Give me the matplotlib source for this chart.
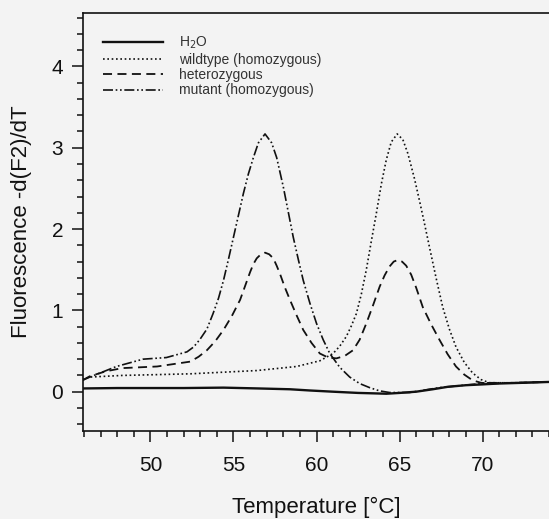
import matplotlib
matplotlib.use("Agg")
import matplotlib.pyplot as plt
from matplotlib.ticker import MultipleLocator

plt.rcParams['font.family'] = ['Liberation Sans', 'DejaVu Sans']

# ---- data ----
t_h2o = [45.9, 48.0, 50.0, 52.0, 54.4, 56.5, 58.4, 59.6, 61.0, 62.5, 63.4, 64.2, 65.0, 66.0, 67.0, 67.9, 69.0, 70.0, 70.9, 72.5, 74.0]
v_h2o = [0.04, 0.045, 0.045, 0.045, 0.05, 0.04, 0.03, 0.015, 0.0, -0.015, -0.02, -0.025, -0.015, 0.0, 0.03, 0.06, 0.08, 0.09, 0.10, 0.11, 0.12]

t_wt = [45.9, 46.35, 48.3, 50.4, 52.4, 54.4, 56.4, 58.8, 60.2, 61.0, 61.4, 61.8, 62.1, 62.4, 62.7, 63.0, 63.3, 63.6, 63.9, 64.2, 64.5, 64.86, 65.2, 65.5, 65.9, 66.2, 66.5, 66.8, 67.2, 67.6, 68.0, 68.4, 68.9, 69.4, 69.9, 70.4, 72.0, 74.0]
v_wt = [0.15, 0.18, 0.20, 0.21, 0.22, 0.24, 0.26, 0.31, 0.38, 0.47, 0.56, 0.68, 0.81, 0.96, 1.20, 1.50, 1.85, 2.19, 2.55, 2.85, 3.07, 3.17, 3.10, 2.93, 2.62, 2.35, 2.07, 1.78, 1.40, 1.04, 0.77, 0.55, 0.36, 0.23, 0.15, 0.11, 0.11, 0.12]

t_het = [45.9, 46.35, 47.3, 48.3, 50.4, 52.4, 52.9, 53.4, 53.9, 54.4, 54.9, 55.4, 55.7, 56.0, 56.2, 56.4, 56.65, 56.9, 57.15, 57.4, 57.6, 57.8, 58.1, 58.4, 58.8, 59.2, 59.7, 60.2, 60.7, 61.2, 61.7, 62.2, 62.6, 63.0, 63.4, 63.8, 64.1, 64.4, 64.65, 64.9, 65.15, 65.4, 65.7, 66.0, 66.4, 66.9, 67.4, 67.9, 68.4, 68.9, 69.4, 69.9, 70.4, 72.0, 74.0]
v_het = [0.14, 0.19, 0.25, 0.29, 0.31, 0.37, 0.43, 0.51, 0.62, 0.76, 0.93, 1.13, 1.30, 1.47, 1.57, 1.64, 1.69, 1.71, 1.69, 1.64, 1.55, 1.45, 1.28, 1.13, 0.94, 0.76, 0.60, 0.47, 0.42, 0.41, 0.44, 0.51, 0.64, 0.84, 1.06, 1.29, 1.43, 1.54, 1.60, 1.62, 1.60, 1.55, 1.44, 1.28, 1.04, 0.83, 0.64, 0.46, 0.31, 0.21, 0.14, 0.11, 0.10, 0.11, 0.12]

t_mut = [45.9, 46.35, 47.95, 49.55, 50.96, 52.2, 52.6, 52.97, 53.4, 53.77, 54.1, 54.4, 54.7, 55.0, 55.3, 55.6, 55.9, 56.2, 56.5, 56.9, 57.3, 57.6, 57.8, 58.0, 58.3, 58.6, 58.9, 59.2, 59.6, 60.0, 60.4, 60.8, 61.4, 62.0, 62.6, 63.2, 63.8, 64.4, 65.6, 67.4, 70.4, 72.0, 74.0]
v_mut = [0.14, 0.18, 0.31, 0.40, 0.42, 0.49, 0.55, 0.64, 0.77, 0.96, 1.15, 1.37, 1.63, 1.90, 2.17, 2.44, 2.68, 2.88, 3.06, 3.17, 3.06, 2.88, 2.70, 2.52, 2.21, 1.90, 1.63, 1.37, 1.09, 0.84, 0.64, 0.47, 0.30, 0.18, 0.10, 0.05, 0.01, -0.01, -0.01, 0.05, 0.11, 0.11, 0.12]

labels = ["H$_2$O", "wildtype (homozygous)", "heterozygous", "mutant (homozygous)"]
x_major = [50, 55, 60, 65, 70]
y_major = [0, 1, 2, 3, 4]

bg = '#f3f3f3'
fig = plt.figure(figsize=(5.49, 5.19), dpi=100, facecolor=bg)
ax = fig.add_axes([0.1506, 0.1696, 0.8494, 0.805], facecolor=bg)

ink = '#111111'
ax.plot(t_h2o, v_h2o, color=ink, lw=1.7, ls='-', label=labels[0])
ax.plot(t_wt, v_wt, color=ink, lw=1.2, ls=(0, (1, 1.6)), label=labels[1])
ax.plot(t_het, v_het, color=ink, lw=1.3, ls=(0, (5, 3)), label=labels[2])
ax.plot(t_mut, v_mut, color=ink, lw=1.2, ls=(0, (6, 1.6, 1, 1.6, 1, 1.6)), label=labels[3])

ax.set_xlim(45.92, 74.0)
ax.set_ylim(-0.483, 4.655)
ax.set_xticks(x_major)
ax.set_yticks(y_major)
ax.xaxis.set_minor_locator(MultipleLocator(1))
ax.yaxis.set_minor_locator(MultipleLocator(0.2))
ax.tick_params(which='major', direction='out', length=8, width=1.1, colors=ink, labelsize=15, pad=10)
ax.tick_params(axis='y', which='major', pad=6)
ax.tick_params(which='minor', direction='out', length=4, width=1.1, colors=ink)
ax.spines['right'].set_visible(False)
for s in ['top', 'left', 'bottom']:
    ax.spines[s].set_linewidth(1.2)
    ax.spines[s].set_color(ink)

ax.set_xlabel("Temperature [°C]", fontsize=16, color=ink, labelpad=16)
ax.set_ylabel("Fluorescence -d(F2)/dT", fontsize=16, color=ink, labelpad=14)

leg = ax.legend(loc='upper left', bbox_to_anchor=(0.0435, 0.948), frameon=False,
                fontsize=10, handlelength=4.3, handletextpad=1.15, labelspacing=0.1,
                borderpad=0, borderaxespad=0)
for txt in leg.get_texts():
    txt.set_color('#333333')

fig.savefig("out.png", dpi=100, facecolor=bg)
